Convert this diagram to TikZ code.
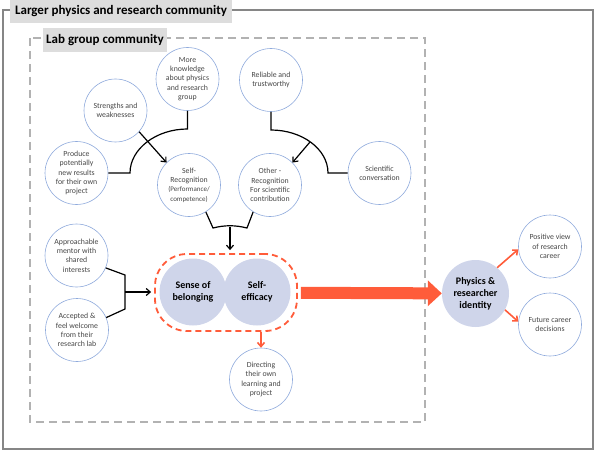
\documentclass[tikz,border=0pt]{standalone}
\usepackage{fontspec}
\setmainfont{Carlito}
\usetikzlibrary{arrows.meta}
\definecolor{ringblue}{RGB}{143,170,220}
\definecolor{ringtext}{RGB}{70,70,70}
\definecolor{corefill}{RGB}{207,213,234}
\definecolor{hired}{RGB}{255,92,58}
\definecolor{outergray}{RGB}{134,134,134}
\definecolor{innergray}{RGB}{178,178,178}
\definecolor{tagfill}{RGB}{221,221,221}

\begin{document}
\begin{tikzpicture}[x=1pt,y=-1pt,
    ring/.style={circle,draw=ringblue,line width=0.6pt,minimum size=63pt,inner sep=0pt,align=center,text=ringtext,font=\fontsize{7.8}{9.3}\selectfont},
    core/.style={circle,fill=corefill,minimum size=67pt,inner sep=0pt,align=center,font=\bfseries\fontsize{10}{11.8}\selectfont},
    tag/.style={fill=tagfill,inner sep=0pt,font=\bfseries\fontsize{13}{15}\selectfont},
    link/.style={line width=1.2pt},
    arr/.style={link,-{Straight Barb[length=4pt,width=7pt]}},
    redarr/.style={draw=hired,line width=1.6pt,-{Straight Barb[length=4pt,width=7pt]}}]
    \useasboundingbox (0,0) rectangle (598,452);
    \draw [draw=outergray,line width=2pt] (3,10) rectangle (593,449);
    \draw [draw=innergray,line width=2.2pt,dash pattern=on 8pt off 5pt] (30,38) rectangle (425,422);
    \node [tag,minimum width=222pt,minimum height=23pt] (big) at (121,11.5) {Larger physics and research community};
    \node [tag,minimum width=124pt,minimum height=24pt] (lab) at (105,40) {Lab group community};

    \node [ring] (know) at (187.5,79) {More\\knowledge\\about physics\\and research\\group};
    \node [ring] (str) at (115.5,110.5) {Strengths and\\weaknesses};
    \node [ring] (prod) at (76.5,173) {Produce\\potentially\\new results\\for their own\\project};
    \node [ring] (selfr) at (189,185) {Self-\\Recognition\\{\fontsize{7}{8.5}\selectfont(Performance/}\\{\fontsize{7}{8.5}\selectfont competence)}};
    \node [ring] (rel) at (271,80) {Reliable and\\trustworthy};
    \node [ring] (other) at (270,185) {Other -\\Recognition\\For scientific\\contribution};
    \node [ring] (sci) at (379.5,173) {Scientific\\conversation};
    \node [ring] (appr) at (76.5,255.5) {Approachable\\mentor with\\shared\\interests};
    \node [ring] (acc) at (77,330) {Accepted \&\\feel welcome\\from their\\research lab};
    \node [ring] (dir) at (261,379.5) {Directing\\their own\\learning and\\project};
    \node [ring] (pos) at (550,246.5) {Positive view\\of research\\career};
    \node [ring] (fut) at (550,324.5) {Future career\\decisions};

    \node [draw=hired,line width=1.8pt,dash pattern=on 6pt off 4pt,rounded corners=32pt,minimum width=142pt,minimum height=77pt] (pill) at (226,292.5) {};
    \node [core] (bel) at (193,292) {Sense of\\belonging};
    \node [core] (eff) at (257,292) {Self-\\efficacy};
    \node [core] (ident) at (475.5,293.5) {Physics \&\\researcher\\identity};

    \coordinate (la) at (310,142);
    \coordinate (lb) at (230,227);
    \coordinate (lc) at (125,292);
    \draw [link] (know.south) -- (187.5,129) .. controls (156,129) and (130,149) .. (130,173) -- (prod.east);
    \draw [arr] (str.-42) -- (selfr.135);
    \draw [link] (rel.south) -- (271,130) .. controls (302,130) and (328,149) .. (328,173) -- (sci.west);
    \draw [arr] (la) -- (other.45);
    \draw [link] (selfr.-58) -- (213,228) .. controls (225,225) and (235,225) .. (247,228) -- (other.-122);
    \draw [arr,shorten >=3pt] (lb) -- (lb |- pill.north);
    \draw [link] (appr.-23) -- (125,275) -- (125,309) -- (acc.23);
    \draw [arr,shorten >=3pt] (lc) -- (lc -| pill.west);

    \draw [draw=hired,line width=12pt,shorten <=3pt,-{Triangle[length=14pt,width=25pt]}] (pill) -- (ident);
    \draw [redarr] (pill.south -| dir.north) -- (dir.north);
    \draw [redarr] (ident.50) -- (pos.185);
    \draw [redarr] (ident.-29) -- (fut.175);
\end{tikzpicture}
\end{document}
